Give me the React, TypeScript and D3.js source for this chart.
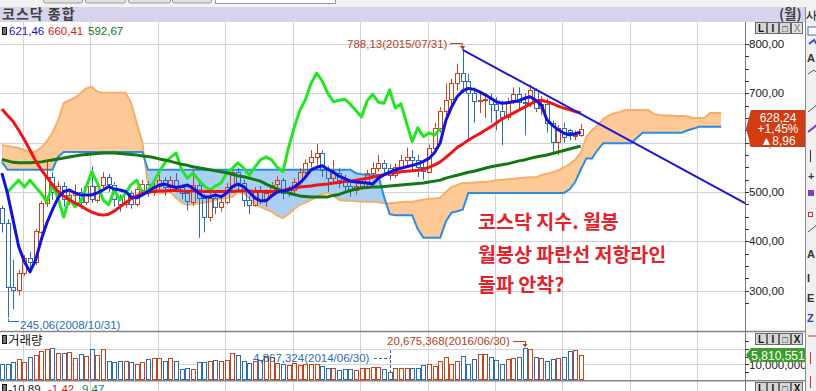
import React, { useEffect } from "react";
import * as d3 from "d3";

// ---------- data (monthly, Sep 2008 .. Apr 2017) ----------
const startMonth = new Date(2008, 8, 1);
const opens = [467,437,308,301,336,366,358,420,478,530,500,512,485,493,500,480,512,485,513,530,515,487,475,498,475,505,517,500,512,524,510,524,510,497,480,514,488,449,488,470,480,510,541,518,484,474,504,484,497,515,524,497,504,520,541,559,570,579,545,528,538,524,512,504,512,518,538,548,559,549,534,550,565,571,565,550,541,590,630,665,687,720,741,725,700,683,686,688,678,665,652,685,698,682,680,707,670,679,640,602,630,625,612,615];
const highs = [472,445,362,342,372,378,425,482,562,540,522,520,505,515,508,520,552,522,540,536,520,495,505,502,510,525,522,518,535,530,532,538,515,503,545,520,495,505,500,490,518,548,550,525,492,510,512,505,520,532,528,512,528,548,566,585,598,584,552,565,548,535,520,520,528,545,560,575,565,556,558,575,590,585,575,560,596,640,672,720,730,760,788.13,740,712,705,700,700,692,685,690,712,712,700,718,710,695,690,645,635,640,628,625,638];
const lows = [418,245.06,262,290,330,340,352,415,470,484,490,470,474,478,465,474,478,478,505,500,470,460,468,466,470,495,490,492,505,492,498,500,485,462,472,407,418,440,455,460,475,505,500,470,455,470,475,470,490,505,485,490,498,515,535,550,555,530,500,520,508,500,490,495,505,512,530,542,535,524,528,545,555,540,530,525,538,585,620,655,665,705,700,603,640,660,650,640,625,595,645,678,665,615,672,662,655,620,580,575,600,605,605,612];
const closes = [437,308,301,336,366,358,420,478,530,500,512,485,493,500,480,512,485,513,530,515,487,475,498,475,505,517,500,512,524,510,524,510,497,480,514,488,449,488,470,480,510,541,518,484,474,504,484,497,515,524,497,504,520,541,559,570,579,545,528,538,524,512,504,512,518,538,548,559,549,534,550,565,571,565,550,541,590,630,665,687,720,741,725,700,683,686,688,678,665,652,685,698,682,680,707,670,679,640,602,630,612,620,615,628];
// volume in millions (thousand-share units)
const volumes = [10.3,10.3,11.7,13.3,11.3,15,16,18.8,19.9,20.3,17.5,17.5,17.7,13.9,16.5,15.6,19.7,16,19.7,12.2,11.7,12.2,12.2,11.7,10.3,11.7,13.5,13.9,14.3,12.2,14.3,12.2,6.9,7.5,7.1,11.7,11.7,12.2,12.8,12.2,12.8,17.1,16,12.4,10.7,12.4,12.8,15.4,14.6,10.7,10.3,9.6,11.1,9.6,10.3,10.3,10.3,9,7.5,7.5,6.4,6.9,6.9,6.4,7.5,7.5,8.1,8.5,7.1,4.867324,7.5,7.5,7.5,7.9,7.5,9.6,10.1,9,12.2,14.6,10.3,12.2,15.4,10.3,13.3,16.5,16.5,14.9,12.8,10.1,13.5,13.9,14.6,20.675368,19.7,14.6,13.9,12.2,13.3,13.9,14.6,18.6,19.2,16];
// moving averages
const ma5 = [538,497,443,389,359,338,362,403,437,464,488,501,504,498,494,494,494,498,504,511,506,504,501,490,488,494,501,508,514,516,512,509,511,514,508,498,490,490,494,490,498,511,516,511,500,488,482,482,492,500,502,504,510,518,530,545,550,553,546,540,532,527,522,520,519,518,516,528,535,540,545,548,551,554,557,562,568,580,600,645,672,693,705,710,708,703,697,690,683,680,681,683,685,690,693,686,676,646,635,626,619,616,618,621];
const ma20 = [668,655,643,625,606,585,563,545,530,515,501,492,484,478,472,465,459,455,453,455,461,470,478,486,492,497,499,501,502,502,503,503,502,501,502,502,501,501,501,501,501,501,502,502,502,501,501,501,501,501,503,506,508,510,511,512,514,515,516,518,519,521,522,524,526,528,530,533,535,538,539,541,542,543,544,546,550,555,561,570,580,590,597,605,612,618,625,632,640,648,654,660,666,672,678,684,686,683,679,674,670,667,663,660];
const ma60 = [566,563,560,559,559,559,560,561,563,565,567,569,571,573,575,576,577,578,579,579,579,578,577,576,575,573,572,570,567,565,562,559,556,554,551,549,547,545,543,541,539,536,533,531,528,525,522,516,511,506,502,498,495,492,491,490,490,490,490,493,495,499,503,506,508,509,510,510,511,512,513,514,515,516,517,518,520,522,524,528,531,534,537,540,542,545,548,551,553,555,557,560,563,565,568,571,573,575,578,581,584,587,590,593];
// ichimoku leading spans, Sep 2008 .. May 2019
const spanA = [595,593,591,589,585,580,582,590,603,620,645,680,686,691,700,710,713,703,701,701,701,701,701,680,640,600,515,500,498,498,500,488,478,474,475,477,478,480,484,486,488,490,500,498,488,477,470,465,460,452,447,455,465,474,478,484,490,496,498,492,484,482,482,481,480,480,480,479,477,477,478,479,480,480,482,484,486,487,488,500,510,514,518,518,519,520,520,522,524,525,526,527,528,529,530,530,534,537,540,544,550,556,565,579,612,625,635,648,655,660,662,666,666,666,666,666,658,656,655,655,654,654,653,650,650,650,660,660,660];
const spanB = [561,545,545,545,545,545,545,545,545,545,571,581,581,581,581,581,581,581,581,581,581,581,581,581,581,581,545,545,545,545,545,545,545,545,545,545,545,545,545,545,545,545,545,545,545,545,545,545,545,545,545,545,545,545,545,545,545,545,545,545,545,545,545,538,536,535,534,534,490,455,453,453,453,453,425,407,407,407,407,440,458,461,464,498,498,498,498,498,498,498,498,498,498,498,498,498,498,498,498,498,498,505,520,545,568,568,585,599,599,599,599,599,599,610,620,620,620,620,620,620,620,620,625,628,632,632,632,632,632];
const CHIKOU_SHIFT = 25;
// trend line: from the Jul 2015 high to the right edge
const trendPoints = [{ i: 81, v: 788.13 }, { i: 131.3, v: 477 }];
const priceTicks = [300, 400, 500, 600, 700, 800];
const legendValues = [
  { t: "621,46", c: "#1414d8" },
  { t: "660,41", c: "#d81818" },
  { t: "592,67", c: "#107a10" },
];
const lastPrice = ["628,24", "+1,45%", "▲8,96"];
const lastVolume = "5,810,551";
const noteLines = ["코스닥 지수. 월봉", "월봉상 파란선 저항라인", "돌파 안착?"];

const FONT = "'Liberation Sans', Arial, sans-serif";
const KFONT = "'Noto Sans CJK KR', 'Noto Sans', sans-serif";
const UP = "#c8421e";
const DOWN = "#2a6cb8";

function Buttons({ y, xDim }: { y: number; xDim?: boolean }) {
  const labels = ["L", "I", "□", "X"];
  return (
    <g>
      {labels.map((l, k) => (
        <g key={k}>
          <rect x={755.5 + k * 12} y={y + 0.5} width={11} height={11} fill={xDim && k === 3 ? "#e4e4e4" : "#d6d6d6"} stroke="#6a6a6a" />
          <text x={761 + k * 12} y={y + 9.5} textAnchor="middle" fontFamily={FONT} fontWeight="bold" fontSize={k === 2 ? 9 : 10} fill={xDim && k === 3 ? "#9a9a9a" : "#111"}>{l}</text>
        </g>
      ))}
    </g>
  );
}

export default function App() {
  useEffect(() => {
    document.body.style.margin = "0";
  }, []);

  const x = d3.scaleLinear().domain([-1, 127]).range([1.88, 721.24]);
  const yP = d3.scaleLinear().domain([300, 800]).range([290.6, 44]);
  const yV = d3.scaleLinear().domain([0, 20]).range([380, 348.8]);

  const allMonths = d3.timeMonths(startMonth, new Date(2019, 5, 1));
  const janIdx = allMonths.map((m, k) => (m.getMonth() === 0 ? k - 1 : null)).filter((v) => v !== null) as number[];

  const cloud = spanA.map((a, k) => ({ i: k - 1, a, b: spanB[k] }));
  const between = d3.area<any>().x((d) => x(d.i)).y0((d) => yP(d.b)).y1((d) => yP(d.a));
  const aboveB = d3.area<any>().x((d) => x(d.i)).y0(0).y1((d) => yP(d.b));
  const belowB = d3.area<any>().x((d) => x(d.i)).y0(400).y1((d) => yP(d.b));
  const lineA = d3.line<any>().x((d) => x(d.i)).y((d) => yP(d.a));
  const lineB = d3.line<any>().x((d) => x(d.i)).y((d) => yP(d.b));
  const lineV = d3.line<any>().x((d) => x(d.i)).y((d) => yP(d.v));

  const series = (arr: number[]) => arr.map((v, k) => ({ i: k - 1, v }));
  const chikou = closes.map((v, k) => ({ i: k - 1 - CHIKOU_SHIFT, v })).filter((d) => d.i >= 0);

  const candles = closes.map((c, k) => ({ i: k - 1, o: opens[k], h: highs[k], l: lows[k], c, vol: volumes[k] }));

  const minorTicks = d3.range(275, 801, 25);
  const fmtP = (v: number) => d3.format(".2f")(v).replace(".", ",");

  return (
    <svg width={816} height={391} style={{ position: "absolute", left: 0, top: 0, display: "block" }} xmlns="http://www.w3.org/2000/svg">
      <defs>
        <clipPath id="plot"><rect x={0} y={22} width={745} height={309} /></clipPath>
        <clipPath id="clipAbove"><path d={aboveB(cloud) || ""} /></clipPath>
        <clipPath id="clipBelow"><path d={belowB(cloud) || ""} /></clipPath>
        <clipPath id="tool"><rect x={806} y={0} width={10} height={391} /></clipPath>
      </defs>
      <rect x={0} y={0} width={816} height={391} fill="#fff" />

      {/* top strip with tabs */}
      <rect x={0} y={0} width={816} height={7} fill="#f2f2f2" />
      {[[43, 39], [85, 40], [128, 42], [172, 39]].map(([tx, tw], k) => (
        <rect key={k} x={tx + 0.5} y={-3} width={tw} height={6} rx={2} fill="#e2e2e2" stroke="#9a9a9a" />
      ))}
      <rect x={215.5} y={-3} width={120} height={6.5} fill="#fff" stroke="#9a9a9a" />

      {/* title bar */}
      <rect x={0} y={7} width={805} height={15} fill="#d6d3ea" />
      <text x={2} y={19} fontFamily={KFONT} fontSize={14} fontWeight={600} letterSpacing={1} fill="#404040">코스닥 종합</text>
      <text x={779} y={19} fontFamily={KFONT} fontSize={13.5} fontWeight={600} fill="#404040">(월)</text>

      {/* grid */}
      {janIdx.filter((i) => x(i) - 1.5 < 745).map((i) => (
        <line key={"vg" + i} x1={Math.round(x(i) - 1.5) + 0.5} x2={Math.round(x(i) - 1.5) + 0.5} y1={22} y2={391} stroke="#d2d2d2" />
      ))}
      {priceTicks.map((v) => (
        <line key={"hg" + v} x1={0} x2={745} y1={Math.round(yP(v)) + 0.5} y2={Math.round(yP(v)) + 0.5} stroke="#d2d2d2" />
      ))}
      {[10, 20].map((v) => (
        <line key={"vg2" + v} x1={0} x2={745} y1={Math.round(yV(v)) + 0.5} y2={Math.round(yV(v)) + 0.5} stroke="#d2d2d2" />
      ))}

      {/* legend */}
      <rect x={2.5} y={27.5} width={4} height={7} fill="#777" stroke="#111" />
      {legendValues.map((d, k) => (
        <text key={k} x={[9, 48, 88][k]} y={35} fontFamily={FONT} fontSize={11.5} fill={d.c}>{d.t}</text>
      ))}

      <g clipPath="url(#plot)">
        {/* ichimoku cloud */}
        <path d={between(cloud) || ""} fill="#fdc996" clipPath="url(#clipAbove)" />
        <path d={between(cloud) || ""} fill="#a9cff4" clipPath="url(#clipBelow)" />
        <path d={lineA(cloud) || ""} fill="none" stroke="#f6ae68" strokeWidth={2} />
        <path d={lineB(cloud) || ""} fill="none" stroke="#2b8ce4" strokeWidth={2} />

        {/* candles */}
        {candles.map((d) => {
          const cx = Math.round(x(d.i)) + 0.5;
          const col = d.c >= d.o ? UP : DOWN;
          const top = yP(Math.max(d.o, d.c));
          const bot = yP(Math.min(d.o, d.c));
          const bh = Math.max(1, bot - top);
          return (
            <g key={"c" + d.i} stroke={col} strokeWidth={1}>
              <line x1={cx} x2={cx} y1={yP(d.h)} y2={top} />
              <line x1={cx} x2={cx} y1={top + bh} y2={yP(d.l)} />
              <rect x={cx - 2} y={Math.round(top) + 0.5} width={4} height={Math.max(1, Math.round(bh))} fill="none" />
            </g>
          );
        })}

        {/* lines */}
        <path d={lineV(chikou) || ""} fill="none" stroke="#22e622" strokeWidth={3} strokeLinejoin="round" />
        <path d={lineV(series(ma60)) || ""} fill="none" stroke="#127812" strokeWidth={3} strokeLinejoin="round" />
        <path d={lineV(series(ma20)) || ""} fill="none" stroke="#f01414" strokeWidth={3} strokeLinejoin="round" />
        <path d={lineV(series(ma5)) || ""} fill="none" stroke="#1212e0" strokeWidth={3} strokeLinejoin="round" />
        <path d={lineV(trendPoints) || ""} fill="none" stroke="#1a1ad2" strokeWidth={2} />
      </g>

      {/* high / low annotations */}
      <text x={347} y={47.5} fontFamily={FONT} fontSize={11.5} fill="#b8401c">788,13(2015/07/31)</text>
      <path d={`M450,43.5 H${x(81) - 0.5} V47`} fill="none" stroke="#b8401c" />
      <path d={`M${x(81) - 3},46 L${x(81)},50 L${x(81) + 2.5},46 Z`} fill="#b8401c" />
      <path d={`M${Math.round(x(0)) + 0.5},319 V321.5 H19`} fill="none" stroke={DOWN} />
      <text x={20} y={329} fontFamily={FONT} fontSize={11.5} fill={DOWN}>245,06(2008/10/31)</text>

      {/* commentary */}
      {noteLines.map((t, k) => (
        <text key={k} x={478} y={[229, 261.5, 292][k]} fontFamily={KFONT} fontWeight="bold" fontSize={19.5} fill="#e3222c">{t}</text>
      ))}

      {/* panel separators */}
      <line x1={0} x2={805} y1={331.5} y2={331.5} stroke="#858585" strokeWidth={1.5} />
      <line x1={0} x2={805} y1={380.8} y2={380.8} stroke="#858585" strokeWidth={1.5} />

      {/* volume */}
      {candles.map((d) => {
        const cx = Math.round(x(d.i)) + 0.5;
        const col = d.c >= d.o ? UP : DOWN;
        const top = Math.round(yV(d.vol));
        return <rect key={"v" + d.i} x={cx - 2} y={top + 0.5} width={4} height={379 - top} fill="#fff" stroke={col} />;
      })}
      <rect x={2.5} y={335.5} width={4} height={8} fill="#777" stroke="#111" />
      <text x={8} y={345} fontFamily={KFONT} fontSize={12.5} fill="#111">거래량</text>
      <text x={387} y={345} fontFamily={FONT} fontSize={11.5} fill="#b8401c">20,675,368(2016/06/30)</text>
      <path d={`M513,341.5 H${Math.round(x(92)) + 0.5} V345`} fill="none" stroke="#b8401c" />
      <path d={`M${x(92) - 2},344 L${x(92) + 0.5},347.5 L${x(92) + 3},344 Z`} fill="#b8401c" />
      <text x={253} y={362} fontFamily={FONT} fontSize={11.5} fill={DOWN}>4,867,324(2014/06/30)</text>
      <path d={`M374,358.5 H${Math.round(x(68)) + 0.5}`} fill="none" stroke={DOWN} strokeDasharray="3,2" />
      <path d={`M${Math.round(x(68)) + 0.5},350 V372`} fill="none" stroke={DOWN} strokeDasharray="3,2" />

      {/* bottom indicator panel (cut by the window edge, as in the source) */}
      <rect x={2.5} y={384.5} width={4} height={8} fill="#777" stroke="#111" />
      <text x={8} y={393} fontFamily={FONT} fontSize={11.5} fill="#222">-10,89</text>
      <text x={48} y={393} fontFamily={FONT} fontSize={11.5} fill="#d21c1c">-1,42</text>
      <text x={82} y={393} fontFamily={FONT} fontSize={11.5} fill="#1f7a5a">9,47</text>

      {/* right axis */}
      <line x1={745.5} x2={745.5} y1={22} y2={391} stroke="#7a7a7a" />
      {minorTicks.map((v) => (
        <line key={"mt" + v} x1={745} x2={749} y1={Math.round(yP(v)) + 0.5} y2={Math.round(yP(v)) + 0.5} stroke="#333" />
      ))}
      {priceTicks.map((v) => (
        <text key={"pl" + v} x={749} y={yP(v) + 4} fontFamily={FONT} fontSize={11.5} fill="#1a1a1a">{fmtP(v)}</text>
      ))}
      {[5, 10, 15, 20, 25].map((v) => (
        <line key={"vt" + v} x1={745} x2={749} y1={Math.round(yV(v)) + 0.5} y2={Math.round(yV(v)) + 0.5} stroke="#333" />
      ))}
      <text x={749} y={369} fontFamily={FONT} fontSize={11.5} fill="#1a1a1a">10,000,000</text>

      {/* last price tag */}
      <path d="M746,128.5 L751,110 H805 V147 H751 Z" fill="#d23c12" />
      {lastPrice.map((t, k) => (
        <text key={k} x={778} y={121.5 + k * 11.5} textAnchor="middle" fontFamily={FONT} fontSize={12} fill="#fff">{t}</text>
      ))}
      <path d="M746,355 L751,348 H805 V362 H751 Z" fill="#3c9c2c" />
      <text x={778} y={359.5} textAnchor="middle" fontFamily={FONT} fontSize={12} fill="#fff">{lastVolume}</text>

      <Buttons y={22} xDim />
      <Buttons y={333} />
      <Buttons y={382} />

      {/* right toolbar */}
      <rect x={805} y={7} width={11} height={384} fill="#f0f0f0" />
      <line x1={805.5} x2={805.5} y1={7} y2={391} stroke="#8a8a8a" />
      <g clipPath="url(#tool)" fontFamily={FONT} fontSize={11} fontWeight="bold">
        <text x={806} y={19} fill="#333">사</text>
        <rect x={808} y={27} width={10} height={8} fill="#fff" stroke="#4a6ab0" />
        <path d="M809,44 L814,40 L818,46" stroke="#4a4ab8" strokeWidth={2} fill="none" />
        <text x={807} y={62} fill="#333">A</text>
        <path d="M808,74 L814,70 L818,74" stroke="#555" fill="none" />
        <line x1={808} x2={818} y1={112} y2={104} stroke="#555" />
        <line x1={808} x2={818} y1={132} y2={124} stroke="#8a3ab8" strokeWidth={2} />
        <line x1={810.5} x2={810.5} y1={150} y2={162} stroke="#333" />
        <text x={808} y={180} fill="#333">+</text>
        <rect x={808} y={190} width={6} height={6} fill="#8a3ab8" />
        <rect x={808.5} y={212.5} width={4} height={4} fill="none" stroke="#d03030" />
        <line x1={808} x2={818} y1={232} y2={224} stroke="#555" />
        <text x={807} y={258} fill="#333">A</text>
        <text x={807} y={282} fill="#333">I</text>
        <text x={807} y={302} fill="#333">E</text>
        <text x={807} y={322} fill="#3a3ab0">Z</text>
        <line x1={808} x2={818} y1={336} y2={336} stroke="#d03030" />
        <line x1={810.5} x2={810.5} y1={352} y2={364} stroke="#d03030" />
        <line x1={810.5} x2={810.5} y1={376} y2={388} stroke="#d03030" />
      </g>
    </svg>
  );
}
